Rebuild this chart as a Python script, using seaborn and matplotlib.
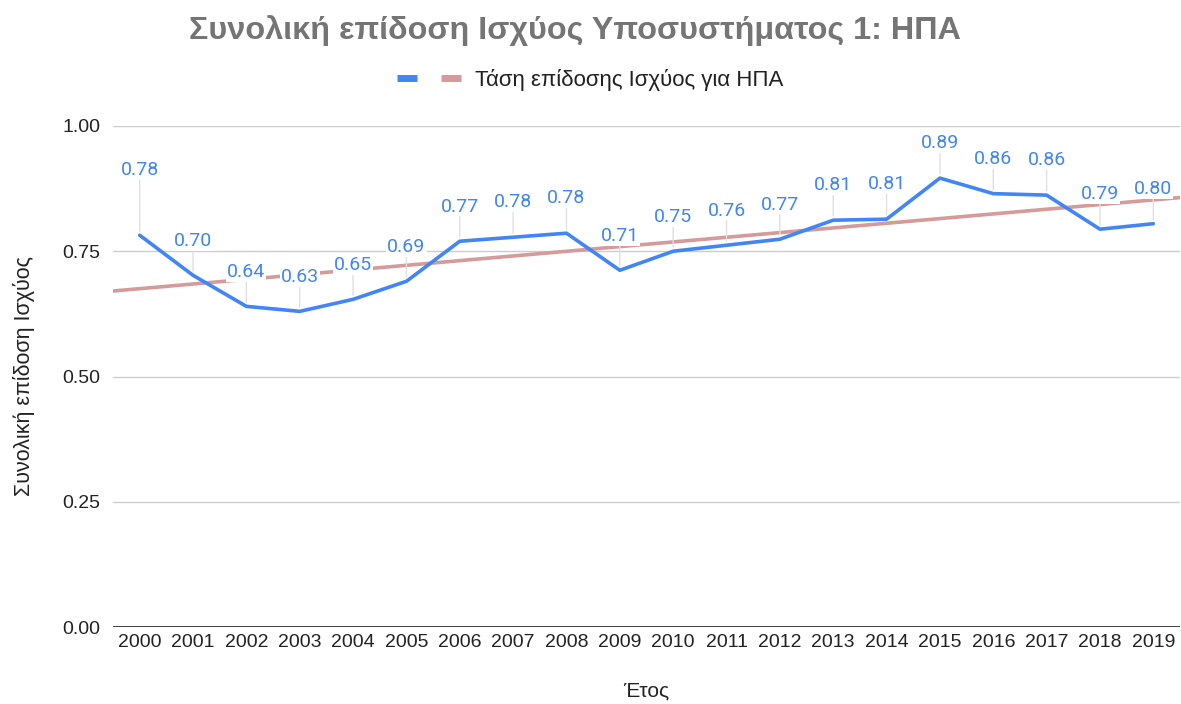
import matplotlib
matplotlib.use("Agg")
import matplotlib.pyplot as plt
from matplotlib.lines import Line2D
import seaborn as sns
import numpy as np
import pandas as pd

years = [2000, 2001, 2002, 2003, 2004, 2005, 2006, 2007, 2008, 2009,
         2010, 2011, 2012, 2013, 2014, 2015, 2016, 2017, 2018, 2019]
values = [0.782, 0.702, 0.640, 0.630, 0.654, 0.690, 0.770, 0.778, 0.786, 0.712,
          0.750, 0.762, 0.774, 0.812, 0.814, 0.896, 0.865, 0.862, 0.794, 0.805]
value_labels = ["0.78", "0.70", "0.64", "0.63", "0.65", "0.69", "0.77", "0.78", "0.78", "0.71",
                "0.75", "0.76", "0.77", "0.81", "0.81", "0.89", "0.86", "0.86", "0.79", "0.80"]
yticks = [0.0, 0.25, 0.50, 0.75, 1.00]

title = "Συνολική επίδοση Ισχύος Υποσυστήματος 1: ΗΠΑ"
trend_label = "Τάση επίδοσης Ισχύος για ΗΠΑ"
xlabel = "Έτος"
ylabel = "Συνολική επίδοση Ισχύος"

BLUE = "#4285F4"
TREND = "#D59A9A"

sns.set_theme(style="white")
plt.rcParams['font.family'] = ['Liberation Sans', 'DejaVu Sans']

df = pd.DataFrame({"year": years, "value": values})

fig = plt.figure(figsize=(11.81, 7.04), dpi=100)
ax = fig.add_axes([113/1181, 1-627/704, (1180-113)/1181, (627-126)/704])

# trend line (linear regression of the data)
coef = np.polyfit(df["year"], df["value"], 1)
tx = np.array([years[0] - 0.5, years[-1] + 0.5])
trend_df = pd.DataFrame({"year": tx, "value": np.polyval(coef, tx)})
sns.lineplot(data=trend_df, x="year", y="value", ax=ax, color=TREND, lw=2.6, zorder=2)

sns.lineplot(data=df, x="year", y="value", ax=ax, color=BLUE, lw=2.6, zorder=3)

ax.set_xlim(years[0] - 0.5, years[-1] + 0.5)
ax.set_ylim(0, 1.0)
ax.set_yticks(yticks)
ax.set_yticklabels([f"{v:.2f}" for v in yticks], fontsize=14, color="#222222")
ax.set_xticks(years)
ax.set_xticklabels([str(y) for y in years], fontsize=14, color="#222222")
ax.tick_params(axis='both', length=0)
ax.tick_params(axis='y', pad=9)
ax.tick_params(axis='x', pad=5)
for s in ax.spines.values():
    s.set_visible(False)
ax.grid(axis='y', color="#cccccc", lw=1)
ax.grid(axis='x', visible=False)
ax.axhline(0, color="#333333", lw=1.3, zorder=4)

ax.set_xlabel(xlabel, fontsize=15, color="#222222", labelpad=22)
ax.set_ylabel(ylabel, fontsize=15.5, color="#222222", labelpad=20)

# data labels with leader lines
for i, (x, v, lab) in enumerate(zip(years, values, value_labels)):
    off = 47 if i == 0 else 25
    ax.annotate(lab, xy=(x, v), xytext=(0, off), textcoords="offset points",
                ha="center", va="center", fontsize=14, color=BLUE,
                family=["Roboto", "DejaVu Sans"], zorder=5,
                bbox=dict(boxstyle="square,pad=0.05", fc="white", ec="none"),
                arrowprops=dict(arrowstyle="-", color="#e0e0e0", lw=1,
                                shrinkA=0, shrinkB=3))

fig.text(0.487, 0.957, title, ha="center", va="center", fontsize=23.3,
         fontweight="bold", color="#757575")

handles = [Line2D([], [], color=BLUE, lw=5, solid_capstyle="butt"),
           Line2D([], [], color=TREND, lw=5, solid_capstyle="butt")]
fig.legend(handles, ["", trend_label], loc="center", bbox_to_anchor=(0.500, 0.886),
           ncol=2, frameon=False, fontsize=16, handlelength=0.9, columnspacing=0.4,
           handletextpad=0.65, labelcolor="#222222")

fig.savefig("out.png", dpi=100)
